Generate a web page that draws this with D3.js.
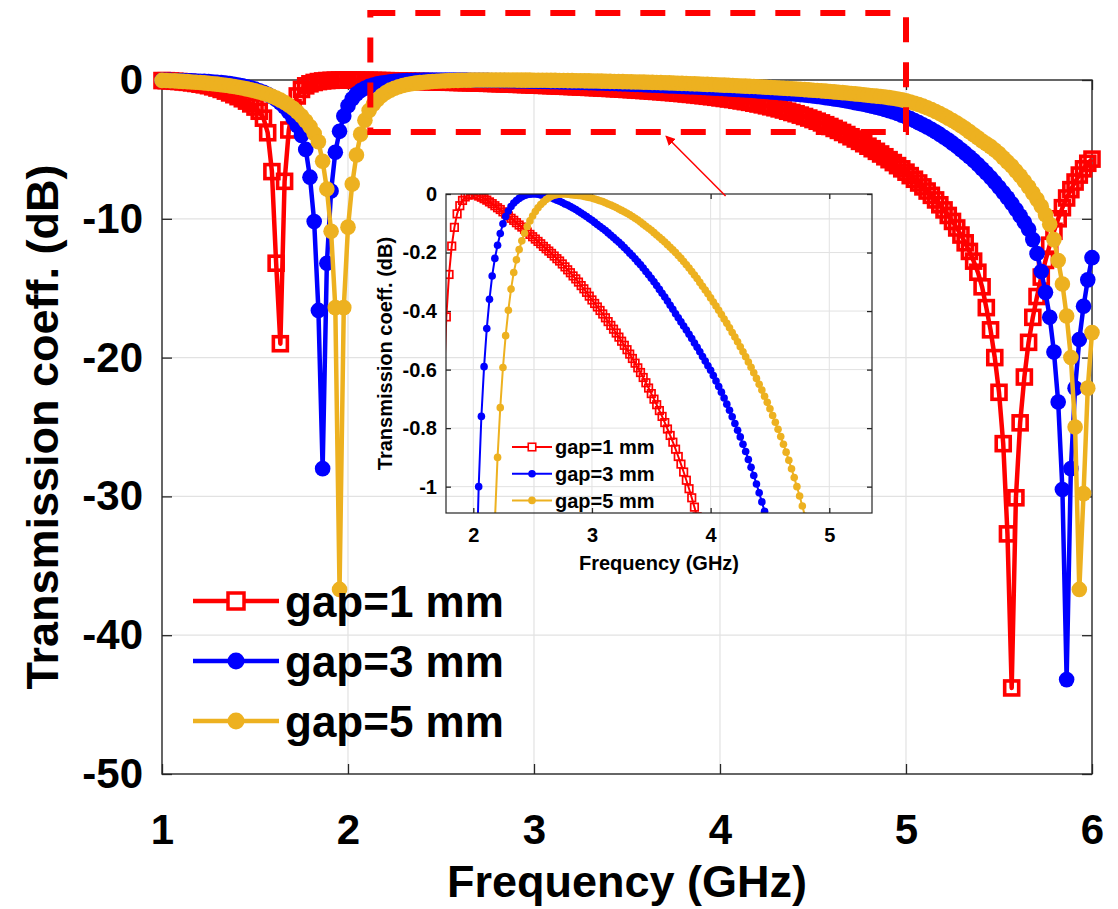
<!DOCTYPE html>
<html>
<head>
<meta charset="utf-8">
<script src="https://cdn.jsdelivr.net/npm/d3@7"></script>
<style>
  body { margin: 0; background: #fff; }
  text { font-family: "Liberation Sans", Arial, sans-serif; font-weight: bold; fill: #000; }
</style>
</head>
<body>
<div id="chart"></div>
<script>
// frequency sweep: 1 to 6 GHz, 221 points
var freq = d3.range(221).map(function(i) { return 1 + i * 5 / 220; });

// transmission coeff. (dB)
var gap1 = [
  -0.04, -0.05, -0.07, -0.09, -0.11, -0.14, -0.17, -0.21, -0.25, -0.30, -0.35,
  -0.41, -0.49, -0.58, -0.68, -0.80, -0.93, -1.06, -1.20, -1.35, -1.52, -1.72,
  -1.95, -2.25, -2.75, -3.8, -6.6, -13.2, -19.0, -7.3, -3.6, -2.0, -1.15,
  -0.68, -0.42, -0.275, -0.178, -0.114, -0.068, -0.040, -0.022, -0.010, -0.004, -0.001,
  0.000, -0.003, -0.007, -0.011, -0.016, -0.021, -0.027, -0.033, -0.040, -0.047, -0.053,
  -0.061, -0.068, -0.075, -0.083, -0.090, -0.098, -0.106, -0.113, -0.121, -0.130, -0.138,
  -0.146, -0.154, -0.162, -0.170, -0.179, -0.187, -0.195, -0.203, -0.212, -0.221, -0.229,
  -0.239, -0.249, -0.259, -0.269, -0.280, -0.290, -0.301, -0.313, -0.324, -0.336, -0.349,
  -0.362, -0.374, -0.386, -0.398, -0.410, -0.423, -0.436, -0.449, -0.462, -0.475, -0.489,
  -0.503, -0.517, -0.532, -0.547, -0.562, -0.578, -0.594, -0.610, -0.627, -0.645, -0.663,
  -0.682, -0.701, -0.720, -0.740, -0.760, -0.781, -0.803, -0.825, -0.848, -0.872, -0.897,
  -0.923, -0.950, -0.978, -1.007, -1.038, -1.070, -1.103, -1.137, -1.172, -1.208, -1.245,
  -1.29, -1.33, -1.37, -1.41, -1.46, -1.51, -1.56, -1.61, -1.67, -1.73, -1.79,
  -1.86, -1.93, -2.00, -2.08, -2.16, -2.25, -2.34, -2.43, -2.53, -2.63, -2.74,
  -2.85, -2.97, -3.09, -3.22, -3.35, -3.49, -3.63, -3.78, -3.93, -4.09, -4.25,
  -4.42, -4.59, -4.77, -4.95, -5.14, -5.33, -5.53, -5.74, -5.95, -6.17, -6.40,
  -6.64, -6.89, -7.15, -7.42, -7.70, -8.00, -8.31, -8.64, -8.99, -9.36, -9.76,
  -10.19, -10.66, -11.17, -11.73, -12.35, -13.05, -13.85, -14.9, -16.4, -18.0, -20.0,
  -22.5, -26.2, -32.7, -43.8, -30.1, -24.7, -21.4, -18.9, -17.1, -15.6, -14.2,
  -13.0, -11.9, -10.9, -10.0, -9.2, -8.5, -7.9, -7.35, -6.85, -6.4, -6.0,
  -5.7
];
var gap3 = [
  -0.02, -0.025, -0.03, -0.035, -0.04, -0.045, -0.05, -0.06, -0.07, -0.085, -0.10,
  -0.12, -0.14, -0.16, -0.19, -0.22, -0.26, -0.31, -0.36, -0.42, -0.49, -0.57,
  -0.66, -0.77, -0.89, -1.03, -1.2, -1.4, -1.65, -1.95, -2.3, -2.75, -3.3,
  -4.0, -5.0, -7.0, -10.2, -16.6, -28.0, -13.2, -8.0, -5.2, -3.7, -2.6,
  -1.85, -1.35, -1.0, -0.76, -0.59, -0.46, -0.36, -0.28, -0.22, -0.175, -0.135,
  -0.102, -0.077, -0.058, -0.043, -0.031, -0.022, -0.015, -0.009, -0.005, -0.002, -0.001,
  0.000, 0.000, -0.001, -0.003, -0.005, -0.008, -0.010, -0.013, -0.017, -0.021, -0.025,
  -0.029, -0.034, -0.038, -0.043, -0.048, -0.053, -0.059, -0.065, -0.071, -0.077, -0.084,
  -0.090, -0.097, -0.104, -0.111, -0.118, -0.125, -0.133, -0.141, -0.149, -0.157, -0.165,
  -0.174, -0.183, -0.192, -0.202, -0.211, -0.221, -0.232, -0.242, -0.253, -0.265, -0.276,
  -0.288, -0.300, -0.313, -0.326, -0.339, -0.352, -0.366, -0.380, -0.394, -0.409, -0.423,
  -0.437, -0.451, -0.465, -0.479, -0.494, -0.509, -0.524, -0.539, -0.555, -0.571, -0.587,
  -0.602, -0.620, -0.639, -0.658, -0.677, -0.697, -0.718, -0.739, -0.761, -0.784, -0.807,
  -0.830, -0.855, -0.880, -0.907, -0.934, -0.962, -0.991, -1.021, -1.052, -1.084, -1.117,
  -1.15, -1.19, -1.23, -1.27, -1.31, -1.36, -1.41, -1.46, -1.51, -1.57, -1.63,
  -1.69, -1.75, -1.82, -1.89, -1.96, -2.04, -2.12, -2.21, -2.31, -2.41, -2.53,
  -2.65, -2.78, -2.92, -3.07, -3.22, -3.38, -3.55, -3.73, -3.92, -4.12, -4.33,
  -4.55, -4.78, -5.02, -5.27, -5.53, -5.80, -6.09, -6.39, -6.70, -7.03, -7.37,
  -7.73, -8.10, -8.49, -8.90, -9.33, -9.78, -10.25, -10.75, -11.5, -12.5, -13.8,
  -15.3, -17.1, -19.6, -23.2, -29.5, -43.2, -28.0, -22.2, -18.7, -16.3, -14.4,
  -12.8
];
var gap5 = [
  -0.03, -0.04, -0.05, -0.06, -0.08, -0.10, -0.12, -0.14, -0.16, -0.18, -0.21,
  -0.24, -0.27, -0.30, -0.34, -0.38, -0.42, -0.47, -0.52, -0.58, -0.64, -0.71,
  -0.78, -0.86, -0.95, -1.05, -1.17, -1.30, -1.45, -1.62, -1.82, -2.04, -2.3,
  -2.6, -2.95, -3.35, -3.85, -4.45, -5.85, -7.85, -10.9, -16.4, -36.7, -16.4,
  -10.6, -7.5, -5.4, -3.9, -2.9, -2.2, -1.75, -1.4, -1.12, -0.90, -0.73,
  -0.593, -0.484, -0.397, -0.325, -0.268, -0.225, -0.19, -0.16, -0.134, -0.111, -0.092,
  -0.075, -0.060, -0.047, -0.036, -0.027, -0.019, -0.013, -0.008, -0.004, -0.002, -0.001,
  0.000, 0.000, -0.001, -0.002, -0.003, -0.004, -0.005, -0.006, -0.008, -0.010, -0.012,
  -0.014, -0.017, -0.020, -0.023, -0.026, -0.030, -0.034, -0.038, -0.042, -0.046, -0.051,
  -0.056, -0.061, -0.066, -0.071, -0.077, -0.083, -0.089, -0.096, -0.103, -0.110, -0.117,
  -0.124, -0.132, -0.140, -0.148, -0.156, -0.164, -0.173, -0.182, -0.191, -0.200, -0.210,
  -0.220, -0.231, -0.242, -0.253, -0.265, -0.277, -0.289, -0.302, -0.315, -0.328, -0.341,
  -0.355, -0.369, -0.383, -0.397, -0.412, -0.427, -0.442, -0.457, -0.473, -0.489, -0.505,
  -0.522, -0.539, -0.556, -0.574, -0.592, -0.611, -0.630, -0.650, -0.670, -0.691, -0.712,
  -0.734, -0.757, -0.780, -0.804, -0.829, -0.855, -0.882, -0.910, -0.939, -0.969, -1.000,
  -1.032, -1.066, -1.101, -1.13, -1.16, -1.19, -1.23, -1.27, -1.32, -1.37, -1.43,
  -1.50, -1.58, -1.67, -1.77, -1.88, -2.00, -2.13, -2.27, -2.42, -2.58, -2.75,
  -2.92, -3.10, -3.30, -3.50, -3.72, -3.94, -4.16, -4.40, -4.60, -4.80, -5.05,
  -5.30, -5.60, -5.90, -6.20, -6.55, -6.90, -7.30, -7.70, -8.15, -8.60, -9.10,
  -9.70, -10.4, -11.5, -13.0, -14.7, -17.0, -20.0, -25.0, -36.7, -29.8, -22.2,
  -18.2
];

var seriesNames = ["gap=1 mm", "gap=3 mm", "gap=5 mm"];
var xTicks = [1, 2, 3, 4, 5, 6];
var yTicks = [0, -10, -20, -30, -40, -50];
var insetXTicks = [2, 3, 4, 5];
var insetYTicks = [0, -0.2, -0.4, -0.6, -0.8, -1];

// zoom box and arrow, in data units of the main axes
var zoomBox = {f0: 2.12, f1: 5.0, v0: 4.83, v1: -3.75};
var arrow = {fTail: 4.03, vTail: -8.36, fTip: 3.71, vTip: -4.05};

var colors = ["#ff0000", "#0000ff", "#edb120"];
var shapes = ["square", "circle", "circle"];

var series = [gap1, gap3, gap5].map(function(vals, k) {
  return {
    name: seriesNames[k],
    color: colors[k],
    shape: shapes[k],
    values: vals.map(function(v, i) { return {f: freq[i], v: v}; })
  };
});

var width = 1118, height = 909;

var svg = d3.select("#chart")
  .append("svg")
    .attr("width", width)
    .attr("height", height);

// ---------- main axes ----------
var x = d3.scaleLinear().domain([1, 6]).range([162, 1092]);
var y = d3.scaleLinear().domain([-50, 0]).range([774, 80]);

var main = svg.append("g");

// grid
main.append("g").selectAll("line")
  .data(xTicks.slice(1, -1))
  .enter().append("line")
    .attr("x1", function(d) { return x(d); })
    .attr("x2", function(d) { return x(d); })
    .attr("y1", y(0)).attr("y2", y(-50))
    .attr("stroke", "#e2e2e2").attr("stroke-width", 1.2);
main.append("g").selectAll("line")
  .data(yTicks.slice(1, -1))
  .enter().append("line")
    .attr("y1", function(d) { return y(d); })
    .attr("y2", function(d) { return y(d); })
    .attr("x1", x(1)).attr("x2", x(6))
    .attr("stroke", "#e2e2e2").attr("stroke-width", 1.2);

function styleAxis(g, fontSize) {
  g.select(".domain").remove();
  g.selectAll(".tick line").attr("stroke", "#262626").attr("stroke-width", 1.3);
  g.selectAll("text")
    .attr("fill", "#262626")
    .style("font-size", fontSize + "px");
}

main.append("g")
  .attr("transform", "translate(0," + y(-50) + ")")
  .call(d3.axisBottom(x).tickValues(xTicks).tickSize(-10).tickPadding(40)
    .tickFormat(d3.format("d")))
  .call(styleAxis, 42);
main.append("g")
  .attr("transform", "translate(" + x(1) + ",0)")
  .call(d3.axisLeft(y).tickValues(yTicks).tickSize(-10).tickPadding(19)
    .tickFormat(function(d) { return String(d).replace("\u2212", "-"); }))
  .call(styleAxis, 42);
main.append("g")
  .attr("transform", "translate(0," + y(0) + ")")
  .call(d3.axisTop(x).tickValues(xTicks).tickSize(-10).tickFormat(""))
  .call(styleAxis, 42);
main.append("g")
  .attr("transform", "translate(" + x(6) + ",0)")
  .call(d3.axisRight(y).tickValues(yTicks).tickSize(-10).tickFormat(""))
  .call(styleAxis, 42);

main.append("rect")
  .attr("x", x(1)).attr("y", y(0))
  .attr("width", x(6) - x(1)).attr("height", y(-50) - y(0))
  .attr("fill", "none").attr("stroke", "#262626").attr("stroke-width", 1.4);

// axis labels
main.append("text")
  .attr("x", (x(1) + x(6)) / 2)
  .attr("y", 897)
  .attr("text-anchor", "middle")
  .style("font-size", "45px")
  .attr("fill", "#262626")
  .text("Frequency (GHz)");
main.append("text")
  .attr("transform", "translate(58," + (y(0) + y(-50)) / 2 + ") rotate(-90)")
  .attr("text-anchor", "middle")
  .style("font-size", "45px")
  .attr("fill", "#262626")
  .text("Transmission coeff. (dB)");

// draw lines + markers
function drawSeries(g, xs, ys, s, opt) {
  g.append("path")
    .datum(s.values)
    .attr("fill", "none")
    .attr("stroke", s.color)
    .attr("stroke-width", opt.lw)
    .attr("stroke-linejoin", "round")
    .attr("d", d3.line()
      .x(function(d) { return xs(d.f); })
      .y(function(d) { return ys(d.v); }));
  var pts = g.append("g").selectAll("g")
    .data(s.values.filter(opt.keep))
    .enter();
  if (s.shape == "square") {
    pts.append("rect")
      .attr("x", function(d) { return xs(d.f) - opt.sq / 2; })
      .attr("y", function(d) { return ys(d.v) - opt.sq / 2; })
      .attr("width", opt.sq).attr("height", opt.sq)
      .attr("fill", "none")
      .attr("stroke", s.color)
      .attr("stroke-width", opt.sqw);
  } else {
    pts.append("circle")
      .attr("cx", function(d) { return xs(d.f); })
      .attr("cy", function(d) { return ys(d.v); })
      .attr("r", opt.r)
      .attr("fill", s.color);
  }
}

var mainOpt = {lw: 4.5, sq: 14, sqw: 3.6, r: 7.8, keep: function() { return true; }};
series.forEach(function(s) { drawSeries(main, x, y, s, mainOpt); });

// legend
function drawLegend(g, x0, y0, dy, len, fontSize, opt) {
  series.forEach(function(s, k) {
    var yy = y0 + k * dy;
    g.append("line")
      .attr("x1", x0).attr("x2", x0 + len)
      .attr("y1", yy).attr("y2", yy)
      .attr("stroke", s.color).attr("stroke-width", opt.lw);
    if (s.shape == "square") {
      g.append("rect")
        .attr("x", x0 + len / 2 - opt.sq / 2).attr("y", yy - opt.sq / 2)
        .attr("width", opt.sq).attr("height", opt.sq)
        .attr("fill", "#fff").attr("stroke", s.color).attr("stroke-width", opt.sqw);
    } else {
      g.append("circle")
        .attr("cx", x0 + len / 2).attr("cy", yy).attr("r", opt.r)
        .attr("fill", s.color);
    }
    g.append("text")
      .attr("x", x0 + len + opt.gap)
      .attr("y", yy)
      .attr("dy", "0.36em")
      .style("font-size", fontSize + "px")
      .text(s.name);
  });
}
drawLegend(main, 193, 601, 60, 86, 44, {lw: 4.5, sq: 16, sqw: 3.5, r: 8.5, gap: 6});

// ---------- inset ----------
var ix = d3.scaleLinear().domain([1.77, 5.36]).range([446, 872]);
var iy = d3.scaleLinear().domain([-1.09, 0]).range([513, 194]);
var inset = svg.append("g");

svg.append("defs").append("clipPath")
  .attr("id", "insetClip")
  .append("rect")
    .attr("x", ix(1.77)).attr("y", iy(0))
    .attr("width", ix(5.36) - ix(1.77)).attr("height", iy(-1.09) - iy(0));

inset.append("g").selectAll("line")
  .data(insetXTicks)
  .enter().append("line")
    .attr("x1", function(d) { return ix(d); })
    .attr("x2", function(d) { return ix(d); })
    .attr("y1", iy(0)).attr("y2", iy(-1.09))
    .attr("stroke", "#e2e2e2").attr("stroke-width", 1);
inset.append("g").selectAll("line")
  .data(insetYTicks.slice(1))
  .enter().append("line")
    .attr("y1", function(d) { return iy(d); })
    .attr("y2", function(d) { return iy(d); })
    .attr("x1", ix(1.77)).attr("x2", ix(5.36))
    .attr("stroke", "#e2e2e2").attr("stroke-width", 1);

inset.append("g")
  .attr("transform", "translate(0," + iy(-1.09) + ")")
  .call(d3.axisBottom(ix).tickValues(insetXTicks).tickSize(-5).tickPadding(15)
    .tickFormat(d3.format("d")))
  .call(styleAxis, 20);
inset.append("g")
  .attr("transform", "translate(" + ix(1.77) + ",0)")
  .call(d3.axisLeft(iy).tickValues(insetYTicks).tickSize(-5).tickPadding(9)
    .tickFormat(function(d) { return String(d).replace("\u2212", "-"); }))
  .call(styleAxis, 20);
inset.append("g")
  .attr("transform", "translate(0," + iy(0) + ")")
  .call(d3.axisTop(ix).tickValues(insetXTicks).tickSize(-5).tickFormat(""))
  .call(styleAxis, 20);
inset.append("g")
  .attr("transform", "translate(" + ix(5.36) + ",0)")
  .call(d3.axisRight(iy).tickValues(insetYTicks).tickSize(-5).tickFormat(""))
  .call(styleAxis, 20);

var insetData = inset.append("g").attr("clip-path", "url(#insetClip)");
var insetOpt = {lw: 2, sq: 7.5, sqw: 1.7, r: 3.8,
  keep: function(d) { return d.f >= 1.765 && d.f <= 5.4 && d.v >= -1.12; }};
series.forEach(function(s) { drawSeries(insetData, ix, iy, s, insetOpt); });

inset.append("rect")
  .attr("x", ix(1.77)).attr("y", iy(0))
  .attr("width", ix(5.36) - ix(1.77)).attr("height", iy(-1.09) - iy(0))
  .attr("fill", "none").attr("stroke", "#262626").attr("stroke-width", 1.2);

inset.append("text")
  .attr("x", (ix(1.77) + ix(5.36)) / 2)
  .attr("y", 570)
  .attr("text-anchor", "middle")
  .style("font-size", "20px")
  .attr("fill", "#262626")
  .text("Frequency (GHz)");
inset.append("text")
  .attr("transform", "translate(392," + (iy(0) + iy(-1.09)) / 2 + ") rotate(-90)")
  .attr("text-anchor", "middle")
  .style("font-size", "20px")
  .attr("fill", "#262626")
  .text("Transmission coeff. (dB)");

drawLegend(inset, 512, 447, 26.7, 40, 20, {lw: 2, sq: 7.5, sqw: 1.6, r: 3.8, gap: 3});

// ---------- annotation: zoom box + arrow ----------
svg.append("rect")
  .attr("x", x(zoomBox.f0)).attr("y", y(zoomBox.v0))
  .attr("width", x(zoomBox.f1) - x(zoomBox.f0))
  .attr("height", y(zoomBox.v1) - y(zoomBox.v0))
  .attr("fill", "none")
  .attr("stroke", "#ff0000")
  .attr("stroke-width", 6)
  .attr("stroke-dasharray", "25,20");

svg.append("defs").append("marker")
  .attr("id", "head")
  .attr("viewBox", "0 0 10 10")
  .attr("refX", 9).attr("refY", 5)
  .attr("markerWidth", 10).attr("markerHeight", 10)
  .attr("markerUnits", "userSpaceOnUse")
  .attr("orient", "auto")
  .append("path")
    .attr("d", "M0,0 L10,5 L0,10 z")
    .attr("fill", "#ff0000");
svg.append("line")
  .attr("x1", x(arrow.fTail)).attr("y1", y(arrow.vTail))
  .attr("x2", x(arrow.fTip)).attr("y2", y(arrow.vTip))
  .attr("stroke", "#ff0000")
  .attr("stroke-width", 1.5)
  .attr("marker-end", "url(#head)");
</script>
</body>
</html>
